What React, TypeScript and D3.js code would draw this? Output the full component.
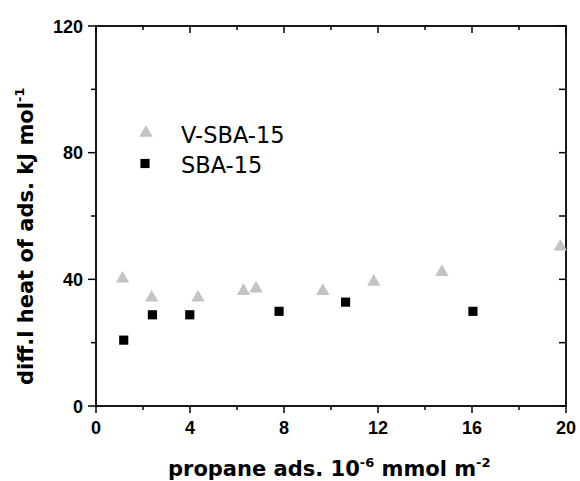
import React from "react";
import * as d3 from "d3";

const vX = [1.13, 2.37, 4.34, 6.28, 6.81, 9.65, 11.82, 14.72, 19.76];
const vY = [40.2, 34.2, 34.2, 36.3, 37.1, 36.3, 39.2, 42.3, 50.3];
const sX = [1.18, 2.4, 3.99, 7.79, 10.62, 16.04];
const sY = [20.8, 28.8, 28.8, 29.9, 32.8, 29.9];
const xMajor = [0, 4, 8, 12, 16, 20];
const xMinor = [2, 6, 10, 14, 18];
const yMajor = [0, 40, 80, 120];
const yMinor = [20, 60, 100];
const seriesNames = ["V-SBA-15", "SBA-15"];

const W = 580, H = 481;
const L = 96, R = 566, T = 26, B = 406;

export default function App() {
  const x = d3.scaleLinear().domain([0, 20]).range([L, R]);
  const y = d3.scaleLinear().domain([0, 120]).range([B, T]);
  const tri = d3.symbol().type(d3.symbolTriangle).size(78)() as string;
  const sq = d3.symbol().type(d3.symbolSquare).size(84)() as string;
  const tickFont = "'Liberation Sans', Arial, sans-serif";
  const labFont = "'DejaVu Sans', Verdana, sans-serif";
  return (
    <div style={{ position: "absolute", left: 0, top: 0 }}>
      <svg width={W} height={H} style={{ display: "block", background: "#fff" }}>
        <rect x={0} y={0} width={W} height={H} fill="#fff" />
        {xMajor.map((v) => (
          <line key={"bx" + v} x1={x(v)} x2={x(v)} y1={B} y2={B + 7} stroke="#000" strokeWidth={1.5} />
        ))}
        {xMinor.map((v) => (
          <line key={"bxm" + v} x1={x(v)} x2={x(v)} y1={B} y2={B + 4} stroke="#000" strokeWidth={1.5} />
        ))}
        {xMajor.map((v) => (
          <line key={"tx" + v} x1={x(v)} x2={x(v)} y1={T} y2={T + 7} stroke="#000" strokeWidth={1.5} />
        ))}
        {xMinor.map((v) => (
          <line key={"txm" + v} x1={x(v)} x2={x(v)} y1={T} y2={T + 4} stroke="#000" strokeWidth={1.5} />
        ))}
        {yMajor.map((v) => (
          <line key={"ly" + v} x1={L - 8} x2={L} y1={y(v)} y2={y(v)} stroke="#000" strokeWidth={1.5} />
        ))}
        {yMinor.map((v) => (
          <line key={"lym" + v} x1={L - 5} x2={L} y1={y(v)} y2={y(v)} stroke="#000" strokeWidth={1.5} />
        ))}
        {yMajor.map((v) => (
          <line key={"ry" + v} x1={R - 7} x2={R} y1={y(v)} y2={y(v)} stroke="#000" strokeWidth={1.5} />
        ))}
        {yMinor.map((v) => (
          <line key={"rym" + v} x1={R - 7} x2={R} y1={y(v)} y2={y(v)} stroke="#000" strokeWidth={1.5} />
        ))}
        <rect x={L} y={T} width={R - L} height={B - T} fill="none" stroke="#000" strokeWidth={1.8} />
        {xMajor.map((v) => (
          <text key={"xl" + v} x={x(v)} y={434} textAnchor="middle" fontFamily={tickFont} fontWeight="bold" fontSize={18}>
            {v}
          </text>
        ))}
        {yMajor.map((v) => (
          <text key={"yl" + v} x={83} y={y(v) + 6.5} textAnchor="end" fontFamily={tickFont} fontWeight="bold" fontSize={18}>
            {v}
          </text>
        ))}
        {vX.map((v, i) => (
          <path key={"v" + i} d={tri} transform={`translate(${x(v)},${y(vY[i])})`} fill="#c3c3c3" />
        ))}
        {sX.map((v, i) => (
          <path key={"s" + i} d={sq} transform={`translate(${x(v)},${y(sY[i])})`} fill="#000" />
        ))}
        <path d={tri} transform="translate(146,133)" fill="#c3c3c3" />
        <text x={181} y={142.5} fontFamily={labFont} fontSize={22.5} fill="#000">
          {seriesNames[0]}
        </text>
        <path d={sq} transform="translate(145,163.5)" fill="#000" />
        <text x={181} y={173} fontFamily={labFont} fontSize={22.5} fill="#000">
          {seriesNames[1]}
        </text>
        <text x={168} y={476} fontFamily={labFont} fontWeight="bold" fontSize={21}>
          propane ads. 10
          <tspan dy={-9} fontSize={13}>-6</tspan>
          <tspan dy={9}> mmol m</tspan>
          <tspan dy={-9} fontSize={13}>-2</tspan>
        </text>
        <text transform="translate(33,385) rotate(-90)" x={0} y={0} fontFamily={labFont} fontWeight="bold" fontSize={21}>
          diff.l heat of ads. kJ mol
          <tspan dy={-9} fontSize={13}>-1</tspan>
        </text>
      </svg>
    </div>
  );
}
